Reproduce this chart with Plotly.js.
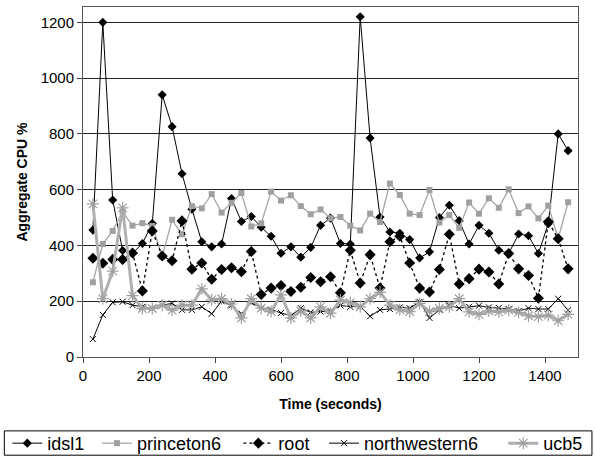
<!DOCTYPE html>
<html>
<head>
<meta charset="utf-8">
<script src="https://cdn.plot.ly/plotly-3.0.1.min.js"></script>
<style>html,body{margin:0;padding:0;background:#fff;}#chart{width:595px;height:469px;}</style>
</head>
<body>
<div id="chart"></div>
<script>
const time = [30,60,90,120,150,180,210,240,270,300,330,360,390,420,450,480,510,540,570,600,630,660,690,720,750,780,810,840,870,900,930,960,990,1020,1050,1080,1110,1140,1170,1200,1230,1260,1290,1320,1350,1380,1410,1440,1470];

const idsl1 = [455,1200,563,382,372,407,479,940,826,657,530,413,395,405,568,486,504,465,433,372,395,358,393,472,498,407,405,1220,785,502,448,444,421,355,377,500,544,489,405,472,444,383,371,441,435,371,478,800,740];

const princeton6 = [268,405,452,520,471,480,470,360,492,440,541,533,584,518,553,588,468,479,593,561,580,541,512,529,498,502,471,454,514,484,622,581,514,509,599,482,509,463,554,514,569,535,601,516,540,497,543,425,555];

const root = [354,336,350,350,373,237,452,362,345,488,315,337,279,314,320,306,378,224,247,256,235,250,285,270,288,230,383,265,367,247,413,433,337,247,233,314,440,262,281,315,305,262,371,316,292,211,485,424,316];

const northwestern6 = [64,151,196,198,186,180,175,186,192,169,169,180,155,200,185,155,195,175,170,158,148,175,160,163,165,185,180,182,146,169,172,178,175,198,140,169,186,175,180,184,178,176,172,165,175,172,172,209,168];

const ucb5 = [549,209,308,535,220,174,174,186,168,186,186,244,205,209,190,140,209,175,163,223,140,165,140,180,157,204,195,180,209,232,186,169,163,192,163,174,180,209,162,153,165,162,168,160,148,145,150,130,153];

const seriesNames = ["idsl1","princeton6","root","northwestern6","ucb5"];
const xTicks = [0,200,400,600,800,1000,1200,1400];
const yTicks = [0,200,400,600,800,1000,1200];

const traces = [
  {x: time, y: idsl1, name: seriesNames[0], mode: "lines+markers", legend: "legend",
   line: {color: "#000", width: 1},
   marker: {symbol: "diamond", size: 7, color: "#000"}},
  {x: time, y: princeton6, name: seriesNames[1], mode: "lines+markers", legend: "legend2",
   line: {color: "#a6a6a6", width: 1.3},
   marker: {symbol: "square", size: 6, color: "#a0a0a0"}},
  {x: time, y: root, name: seriesNames[2], mode: "lines+markers", legend: "legend3",
   line: {color: "#000", width: 1.3, dash: "dot"},
   marker: {symbol: "diamond", size: 8.5, color: "#000"}},
  {x: time, y: northwestern6, name: seriesNames[3], mode: "lines+markers", legend: "legend4",
   line: {color: "#000", width: 1},
   marker: {symbol: "x-thin-open", size: 6, color: "#000", line: {width: 1, color: "#000"}}},
  {x: time, y: ucb5, name: seriesNames[4], mode: "lines+markers", legend: "legend5",
   line: {color: "#b0b0b0", width: 3},
   marker: {symbol: "asterisk-open", size: 10, color: "#a0a0a0", line: {width: 1.2, color: "#a0a0a0"}}}
];

const font = "Arial, 'Liberation Sans', sans-serif";
const pw = 497, pl = 82;
function legendAt(px) {
  return {orientation: "h", x: (px - pl) / pw, xanchor: "left", y: -0.247, yanchor: "middle",
          font: {family: font, size: 18, color: "#000"}, bgcolor: "rgba(0,0,0,0)", borderwidth: 0};
}
const layout = {
  width: 595, height: 469,
  margin: {l: 82, r: 16, t: 7, b: 102},
  paper_bgcolor: "#fff", plot_bgcolor: "#fff",
  font: {family: font, color: "#000", size: 15},
  showlegend: true,
  legend: legendAt(6),
  legend2: legendAt(96),
  legend3: legendAt(238),
  legend4: legendAt(324),
  legend5: legendAt(504),
  xaxis: {range: [0, 1500], tickvals: xTicks, ticks: "outside", ticklen: 5, tickcolor: "#444",
          showgrid: false, zeroline: false, showline: true, linecolor: "#555", linewidth: 1, mirror: true,
          tickfont: {family: font, size: 15},
          title: {text: "<b>Time (seconds)</b>", font: {family: font, size: 14}, standoff: 16}},
  yaxis: {range: [0, 1255], tickvals: yTicks, ticks: "outside", ticklen: 5, tickcolor: "#444",
          showgrid: true, gridcolor: "#222", gridwidth: 1, zeroline: false,
          showline: true, linecolor: "#555", linewidth: 1, mirror: true,
          tickfont: {family: font, size: 15},
          title: {text: "<b>Aggregate CPU %</b>", font: {family: font, size: 14}, standoff: 9}},
  shapes: [{type: "rect", xref: "paper", yref: "paper",
            x0: (3-82)/497, x1: (593-82)/497, y0: (367-468)/360, y1: (367-443)/360,
            line: {color: "#000", width: 1}, fillcolor: "rgba(0,0,0,0)"}]
};

Plotly.newPlot("chart", traces, layout, {displayModeBar: false, staticPlot: true});
</script>
</body>
</html>
